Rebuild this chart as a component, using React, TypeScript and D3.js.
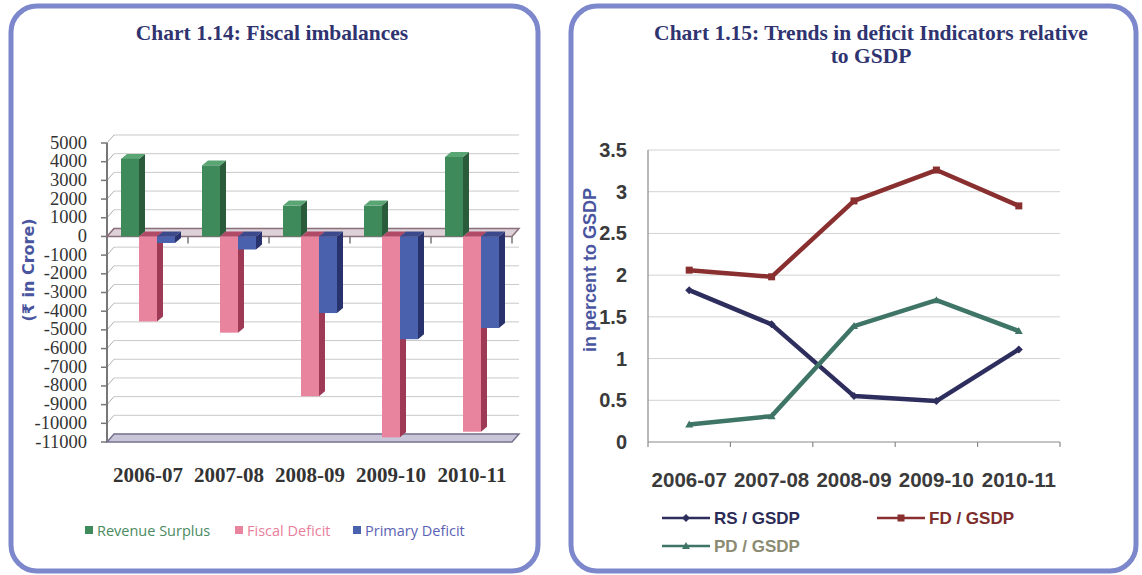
import React from "react";
import * as d3 from "d3";

// ---------- data ----------
const years = ["2006-07", "2007-08", "2008-09", "2009-10", "2010-11"];
const barSeries = ["Revenue Surplus", "Fiscal Deficit", "Primary Deficit"];
const revenueSurplus = [4150, 3800, 1650, 1650, 4250];
const fiscalDeficit = [-4550, -5150, -8550, -10750, -10450];
const primaryDeficit = [-350, -700, -4100, -5500, -4900];
const leftTicks = [5000, 4000, 3000, 2000, 1000, 0, -1000, -2000, -3000, -4000, -5000, -6000, -7000, -8000, -9000, -10000, -11000];

const lineSeries = ["RS / GSDP", "FD / GSDP", "PD / GSDP"];
const rsGsdp = [1.82, 1.41, 0.55, 0.49, 1.11];
const fdGsdp = [2.06, 1.98, 2.89, 3.26, 2.83];
const pdGsdp = [0.21, 0.31, 1.39, 1.70, 1.33];
const rightTicks = [0, 0.5, 1, 1.5, 2, 2.5, 3, 3.5];

const barValues = [revenueSurplus, fiscalDeficit, primaryDeficit];
const barFront = ["#3f8a5a", "#e8849e", "#4a62ad"];
const barSide = ["#2a5c3c", "#9e3a55", "#28336e"];
const barTop = ["#5aa574", "#b04a66", "#3c4a8c"];
const barLegendText = ["#4a8a60", "#e8809c", "#5a62b4"];

const lineValues = [rsGsdp, fdGsdp, pdGsdp];
const lineColors = ["#2e2e5e", "#8a2f2f", "#3f7566"];
const lineText = ["#2b2b55", "#7d2c2c", "#8b8b72"];

const BORDER = "#7d88cc";
const TITLE = "#2f3470";
const AXIS_TITLE = "#4a55a0";

function LeftChart() {
  const y = d3.scaleLinear().domain([-11000, 5000]).range([442, 143]);
  const x = d3.scaleBand().domain(years).range([113, 518]);
  const inner = d3.scaleBand().domain(barSeries).range([8, 62]);
  const dx = 6, dy = -5;
  const gx = 7, gy = -8; // back wall offset
  const y0 = y(0);
  const xStart = 107, xEnd = 512;

  const bars: React.ReactNode[] = [];
  years.forEach((yr, i) => {
    barSeries.forEach((s, k) => {
      const v = barValues[k][i];
      const bx = (x(yr) as number) + (inner(s) as number);
      const w = inner.bandwidth();
      const yv = y(v);
      const top = Math.min(yv, y0);
      const bot = Math.max(yv, y0);
      bars.push(
        <g key={`${yr}-${s}`}>
          <polygon
            points={`${bx + w},${top} ${bx + w + dx},${top + dy} ${bx + w + dx},${bot + dy} ${bx + w},${bot}`}
            fill={barSide[k]}
          />
          <polygon
            points={`${bx},${top} ${bx + dx},${top + dy} ${bx + w + dx},${top + dy} ${bx + w},${top}`}
            fill={barTop[k]}
          />
          <rect x={bx} y={top} width={w} height={bot - top} fill={barFront[k]} />
        </g>
      );
    });
  });

  return (
    <g>
      <rect x={11} y={6} width={527} height={565} rx={26} ry={26} fill="#fff" stroke={BORDER} strokeWidth={5} />
      <text x={272} y={40} textAnchor="middle" fontFamily="Liberation Serif, serif" fontWeight="bold" fontSize={21.5} fill={TITLE}>
        Chart 1.14: Fiscal imbalances
      </text>
      {/* gridlines on back wall */}
      {leftTicks.map((t) => (
        <g key={`g${t}`}>
          <line x1={xStart + gx} x2={xEnd + gx} y1={y(t) + gy} y2={y(t) + gy} stroke="#c9c9c9" strokeWidth={1} />
          <line x1={xStart} x2={xStart + gx} y1={y(t)} y2={y(t) + gy} stroke="#b0b0b0" strokeWidth={1} />
          <line x1={xStart - 6} x2={xStart} y1={y(t)} y2={y(t)} stroke="#777" strokeWidth={1.5} />
          <text x={87} y={y(t) + 5.5} textAnchor="end" fontFamily="Liberation Serif, serif" fontSize={18.5} fill="#333">
            {t}
          </text>
        </g>
      ))}
      <line x1={xStart} x2={xStart} y1={y(5000)} y2={y(-11000)} stroke="#777" strokeWidth={2} />
      {/* bottom floor */}
      <polygon
        points={`${xStart},${y(-11000)} ${xStart + gx},${y(-11000) + gy} ${xEnd + gx},${y(-11000) + gy} ${xEnd},${y(-11000)}`}
        fill="#c8c6d8"
        stroke="#77738f"
        strokeWidth={1.5}
      />
      {/* zero floor */}
      <polygon
        points={`${xStart},${y0} ${xStart + gx},${y0 + gy} ${xEnd + gx},${y0 + gy} ${xEnd},${y0}`}
        fill="#ddd0d6"
        stroke="#8a6f7c"
        strokeWidth={1.5}
      />
      {years.map((yr) => {
        const bx = (x(yr) as number) + x.bandwidth() - 6;
        return <line key={`t${yr}`} x1={bx} x2={bx} y1={y0} y2={y0 + 7} stroke="#777" strokeWidth={1.5} />;
      })}
      {bars}
      {years.map((yr) => (
        <text
          key={`l${yr}`}
          x={(x(yr) as number) + 35}
          y={482}
          textAnchor="middle"
          fontFamily="Liberation Serif, serif"
          fontWeight="bold"
          fontSize={21}
          fill="#333"
        >
          {yr}
        </text>
      ))}
      <text
        transform="translate(34,270) rotate(-90)"
        textAnchor="middle"
        fontFamily="DejaVu Sans, Noto Sans, sans-serif"
        fontWeight="bold"
        fontSize={16}
        fill={AXIS_TITLE}
      >
        (₹ in Crore)
      </text>
      {/* legend */}
      {barSeries.map((s, k) => {
        const lx = [85, 235, 353][k];
        return (
          <g key={`lg${s}`}>
            <rect x={lx} y={526} width={8} height={8} fill={barFront[k]} />
            <text x={lx + 12} y={535.5} fontFamily="Open Sans, sans-serif" fontSize={14.5} fill={barLegendText[k]}>
              {s}
            </text>
          </g>
        );
      })}
    </g>
  );
}

function RightChart() {
  const y = d3.scaleLinear().domain([0, 3.5]).range([442, 150]);
  const x = d3.scaleBand().domain(years).range([648, 1060]);
  const cx = (yr: string) => (x(yr) as number) + x.bandwidth() / 2;
  const line = d3
    .line<number>()
    .x((_, i) => cx(years[i]))
    .y((d) => y(d));

  const marker = (k: number, px: number, py: number, key: string) => {
    if (k === 0) return <path key={key} d={`M${px},${py - 4}L${px + 4},${py}L${px},${py + 4}L${px - 4},${py}Z`} fill={lineColors[k]} />;
    if (k === 1) return <rect key={key} x={px - 3.5} y={py - 3.5} width={7} height={7} fill={lineColors[k]} />;
    return <path key={key} d={`M${px},${py - 4}L${px + 4},${py + 3}L${px - 4},${py + 3}Z`} fill={lineColors[k]} />;
  };

  return (
    <g>
      <rect x={571} y={6} width={565} height={565} rx={26} ry={26} fill="#fff" stroke={BORDER} strokeWidth={5} />
      <text textAnchor="middle" fontFamily="Liberation Serif, serif" fontWeight="bold" fontSize={21.5} fill={TITLE}>
        <tspan x={871} y={40}>Chart 1.15: Trends in deficit Indicators relative</tspan>
        <tspan x={871} y={63}>to GSDP</tspan>
      </text>
      {rightTicks.map((t) => (
        <g key={`r${t}`}>
          {t > 0 && <line x1={648} x2={1060} y1={y(t)} y2={y(t)} stroke="#d2d2d2" strokeWidth={1} />}
          <text x={627} y={y(t) + 7} textAnchor="end" fontFamily="Liberation Sans, Arial, sans-serif" fontWeight="bold" fontSize={20} fill="#3a3a3a">
            {t}
          </text>
        </g>
      ))}
      <line x1={648} x2={648} y1={150} y2={442} stroke="#8a8a8a" strokeWidth={1.2} />
      <line x1={648} x2={1060} y1={442} y2={442} stroke="#8a8a8a" strokeWidth={1.2} />
      {[...years.map((yr) => x(yr) as number), 1060].map((tx, i) => (
        <line key={`xt${i}`} x1={tx} x2={tx} y1={442} y2={447} stroke="#8a8a8a" strokeWidth={1.2} />
      ))}
      {years.map((yr) => (
        <text key={`xl${yr}`} x={cx(yr)} y={487} textAnchor="middle" fontFamily="Liberation Sans, Arial, sans-serif" fontWeight="bold" fontSize={20.5} fill="#3a3a3a">
          {yr}
        </text>
      ))}
      {lineValues.map((vals, k) => (
        <g key={`ln${k}`}>
          <path d={line(vals) || ""} fill="none" stroke={lineColors[k]} strokeWidth={4.5} strokeLinejoin="round" />
          {vals.map((v, i) => marker(k, cx(years[i]), y(v), `m${k}-${i}`))}
        </g>
      ))}
      <text
        transform="translate(596,270) rotate(-90)"
        textAnchor="middle"
        fontFamily="Liberation Sans, Arial, sans-serif"
        fontWeight="bold"
        fontSize={18}
        fill={AXIS_TITLE}
      >
        in percent to GSDP
      </text>
      {lineSeries.map((s, k) => {
        const lx = [662, 877, 662][k];
        const ly = [518, 518, 546][k];
        return (
          <g key={`rl${s}`}>
            <line x1={lx} x2={lx + 48} y1={ly} y2={ly} stroke={lineColors[k]} strokeWidth={2.5} />
            {marker(k, lx + 24, ly, `lm${k}`)}
            <text x={lx + 52} y={ly + 6} fontFamily="Liberation Sans, Arial, sans-serif" fontWeight="bold" fontSize={17} fill={lineText[k]}>
              {s}
            </text>
          </g>
        );
      })}
    </g>
  );
}

export default function App() {
  return (
    <svg width={1142} height={575} style={{ position: "absolute", left: 0, top: 0, background: "#fff" }}>
      <LeftChart />
      <RightChart />
    </svg>
  );
}
